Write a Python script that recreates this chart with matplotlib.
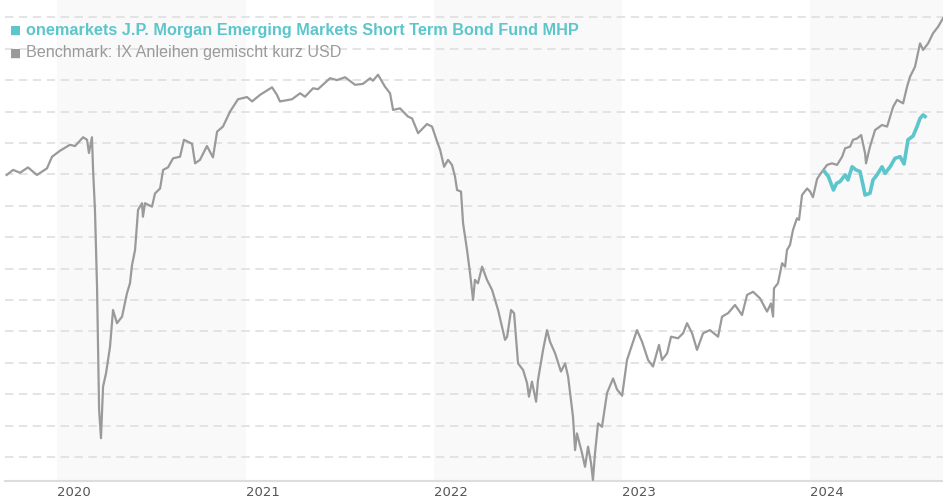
import matplotlib
matplotlib.use("Agg")
import matplotlib.pyplot as plt

# time as decimal years, values in chart units (one unit per gridline)
bench_t = [2019.731, 2019.765, 2019.802, 2019.844, 2019.892, 2019.945, 2019.972, 2020.014,
           2020.067, 2020.094, 2020.137, 2020.158, 2020.168, 2020.184, 2020.190, 2020.200,
           2020.211, 2020.222, 2020.232, 2020.243, 2020.259, 2020.280, 2020.296, 2020.317,
           2020.344, 2020.370, 2020.386, 2020.397, 2020.413, 2020.429, 2020.450, 2020.455,
           2020.466, 2020.503, 2020.519, 2020.546, 2020.562, 2020.588, 2020.615, 2020.652,
           2020.673, 2020.716, 2020.732, 2020.758, 2020.795, 2020.827, 2020.849, 2020.880,
           2020.918, 2020.960, 2021.008, 2021.035, 2021.077, 2021.141, 2021.167, 2021.183,
           2021.247, 2021.290, 2021.316, 2021.359, 2021.385, 2021.449, 2021.486, 2021.529,
           2021.582, 2021.624, 2021.662, 2021.677, 2021.704, 2021.741, 2021.768, 2021.784,
           2021.821, 2021.863, 2021.885, 2021.917, 2021.964, 2021.991, 2022.018, 2022.034,
           2022.055, 2022.076, 2022.097, 2022.113, 2022.124, 2022.145, 2022.156, 2022.177,
           2022.193, 2022.209, 2022.219, 2022.235, 2022.257, 2022.283, 2022.310, 2022.342,
           2022.379, 2022.390, 2022.411, 2022.427, 2022.448, 2022.475, 2022.496, 2022.506,
           2022.522, 2022.544, 2022.554, 2022.581, 2022.602, 2022.618, 2022.645, 2022.676,
           2022.698, 2022.714, 2022.740, 2022.751, 2022.761, 2022.788, 2022.804, 2022.820,
           2022.836, 2022.846, 2022.857, 2022.873, 2022.894, 2022.921, 2022.953, 2022.974,
           2023.001, 2023.027, 2023.054, 2023.080, 2023.107, 2023.139, 2023.165, 2023.197,
           2023.213, 2023.240, 2023.261, 2023.298, 2023.325, 2023.346, 2023.373, 2023.399,
           2023.431, 2023.468, 2023.511, 2023.532, 2023.564, 2023.601, 2023.638, 2023.665,
           2023.697, 2023.734, 2023.771, 2023.792, 2023.803, 2023.808, 2023.829, 2023.851,
           2023.867, 2023.877, 2023.893, 2023.909, 2023.930, 2023.941, 2023.957, 2023.984,
           2024.000, 2024.015, 2024.037, 2024.053, 2024.090, 2024.116, 2024.143, 2024.170,
           2024.186, 2024.212, 2024.228, 2024.249, 2024.271, 2024.292, 2024.297, 2024.318,
           2024.345, 2024.382, 2024.409, 2024.441, 2024.462, 2024.494, 2024.515, 2024.531,
           2024.557, 2024.584, 2024.600, 2024.627, 2024.653, 2024.680, 2024.706]
bench_v = [8.98, 9.14, 9.05, 9.22, 8.98, 9.19, 9.56, 9.75,
           9.94, 9.90, 10.18, 10.10, 9.68, 10.18, 9.14, 7.87,
           5.42, 1.50, 0.60, 2.24, 2.67, 3.51, 4.68, 4.26,
           4.47, 5.21, 5.53, 6.11, 6.59, 7.87, 8.08, 7.65,
           8.08, 7.97, 8.39, 8.55, 9.14, 9.22, 9.51, 9.56,
           10.10, 9.97, 9.35, 9.46, 9.90, 9.54, 10.36, 10.52,
           11.00, 11.39, 11.46, 11.32, 11.53, 11.77, 11.53, 11.32,
           11.39, 11.58, 11.47, 11.74, 11.71, 12.06, 12.00, 12.09,
           11.85, 11.88, 12.06, 11.98, 12.17, 11.79, 11.58, 11.05,
           11.10, 10.84, 10.78, 10.31, 10.60, 10.52, 10.04, 9.78,
           9.24, 9.46, 9.30, 8.93, 8.50, 8.45, 7.44, 6.59,
           5.85, 5.00, 5.64, 5.53, 6.06, 5.64, 5.32, 4.68,
           3.73, 3.83, 4.68, 4.58, 2.98, 2.77, 2.35, 1.92,
           2.40, 1.76, 2.45, 3.41, 4.04, 3.67, 3.30, 2.72,
           2.98, 2.56, 1.28, 0.22, 0.75, 0.12, -0.31, 0.33,
           -0.20, -0.73, 0.12, 1.07, 0.96, 2.04, 2.50, 2.15,
           1.95, 3.09, 3.57, 4.04, 3.67, 3.09, 2.88, 3.57,
           3.09, 3.30, 3.83, 3.78, 3.94, 4.26, 3.94, 3.41,
           3.94, 4.04, 3.83, 4.47, 4.58, 4.84, 4.52, 5.16,
           5.26, 5.05, 4.63, 4.89, 4.47, 5.37, 5.53, 6.17,
           6.06, 6.59, 6.75, 7.23, 7.60, 7.55, 8.34, 8.55,
           8.45, 8.27, 8.85, 9.00, 9.30, 9.35, 9.30, 9.56,
           9.83, 9.88, 10.10, 10.14, 10.25, 9.67, 9.35, 9.88,
           10.41, 10.57, 10.52, 11.15, 11.37, 11.26, 11.79, 12.11,
           12.42, 13.17, 12.96, 13.17, 13.49, 13.70, 13.97]

fund_t = [2024.076, 2024.097, 2024.124, 2024.140, 2024.159, 2024.186, 2024.201, 2024.223,
          2024.244, 2024.265, 2024.281, 2024.292, 2024.318, 2024.334, 2024.355, 2024.382,
          2024.398, 2024.425, 2024.451, 2024.478, 2024.499, 2024.520, 2024.547, 2024.568,
          2024.584, 2024.600, 2024.611]
fund_v = [9.09, 8.93, 8.50, 8.71, 8.77, 8.98, 8.82, 9.24,
          9.14, 9.09, 8.66, 8.34, 8.40, 8.82, 8.98, 9.24,
          9.03, 9.24, 9.51, 9.56, 9.33, 10.10, 10.22, 10.52,
          10.78, 10.89, 10.84]

years = [2020, 2021, 2022, 2023, 2024]
shaded = [2020, 2022, 2024]

fund_name = "onemarkets J.P. Morgan Emerging Markets Short Term Bond Fund MHP"
bench_name = "Benchmark: IX Anleihen gemischt kurz USD"
teal = "#5cc6cc"
grey = "#9a9a9a"

fig = plt.figure(figsize=(9.43, 5.0), dpi=100)
ax = fig.add_axes([5 / 943, 19 / 500, 938 / 943, 481 / 500])

for y0 in shaded:
    ax.axvspan(y0, y0 + 1, color="#f9f9f9", lw=0, zorder=0)
for g in range(0, 15):
    ax.axhline(g, color="#dddddd", lw=1.1, ls=(0, (5.5, 3.6)), zorder=1)

ax.plot(bench_t, bench_v, color=grey, lw=1.6, zorder=3)
ax.plot(fund_t, fund_v, color=teal, lw=2.6, zorder=4)

ax.set_xlim(2019.722, 2024.706)
ax.set_ylim(-0.764, 14.55)

for s in ["top", "right", "left"]:
    ax.spines[s].set_visible(False)
ax.spines["bottom"].set_color("#dddddd")
ax.spines["bottom"].set_linewidth(1.5)
ax.set_yticks([])
ax.set_xticks(years)
ax.set_xticklabels([str(y) for y in years], ha="left", fontsize=9.5,
                   color="#555555", family="DejaVu Sans")
ax.tick_params(axis="x", length=0, pad=3.5)

fig.text(10 / 943, 1 - 30 / 500, "\u25a0", color=teal, fontsize=8.5, va="center",
         family="DejaVu Sans")
fig.text(26 / 943, 1 - 30 / 500, fund_name, color=teal, fontsize=11.7, fontweight="bold",
         va="center", family="Liberation Sans")
fig.text(10 / 943, 1 - 53 / 500, "\u25a0", color=grey, fontsize=8.5, va="center",
         family="DejaVu Sans")
fig.text(26 / 943, 1 - 53 / 500, bench_name, color=grey, fontsize=11.6,
         va="center", family="Liberation Sans")

fig.savefig("out.png", dpi=100)
